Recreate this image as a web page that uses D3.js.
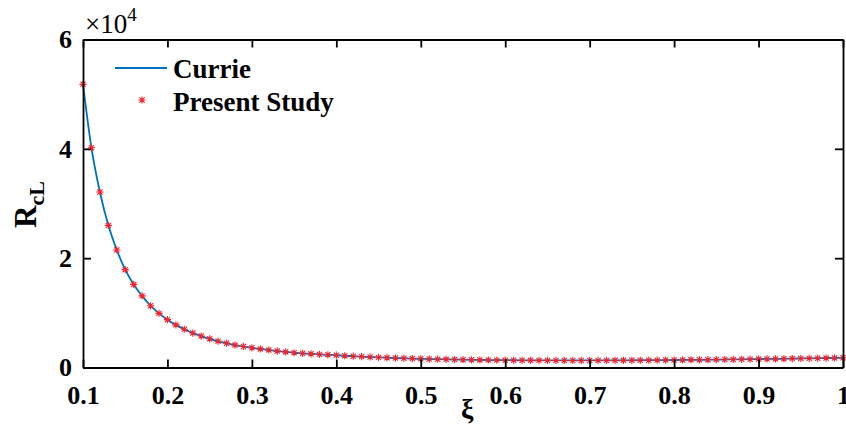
<!DOCTYPE html>
<html>
<head>
<meta charset="utf-8">
<script src="https://cdn.jsdelivr.net/npm/d3@7"></script>
<style>
  body { margin: 0; background: #fff; }
  text { font-family: "Liberation Serif", "Times New Roman", serif; }
</style>
</head>
<body>
<div id="chart"></div>
<script>
// damping ratio values
var xi = [0.10, 0.11, 0.12, 0.13, 0.14, 0.15, 0.16, 0.17, 0.18, 0.19,
          0.20, 0.21, 0.22, 0.23, 0.24, 0.25, 0.26, 0.27, 0.28, 0.29,
          0.30, 0.31, 0.32, 0.33, 0.34, 0.35, 0.36, 0.37, 0.38, 0.39,
          0.40, 0.41, 0.42, 0.43, 0.44, 0.45, 0.46, 0.47, 0.48, 0.49,
          0.50, 0.51, 0.52, 0.53, 0.54, 0.55, 0.56, 0.57, 0.58, 0.59,
          0.60, 0.61, 0.62, 0.63, 0.64, 0.65, 0.66, 0.67, 0.68, 0.69,
          0.70, 0.71, 0.72, 0.73, 0.74, 0.75, 0.76, 0.77, 0.78, 0.79,
          0.80, 0.81, 0.82, 0.83, 0.84, 0.85, 0.86, 0.87, 0.88, 0.89,
          0.90, 0.91, 0.92, 0.93, 0.94, 0.95, 0.96, 0.97, 0.98, 0.99,
          1.00];

// R_cL, same values for Currie (line) and the present study (markers)
var rcl = [51800, 40200, 32100, 26000, 21500, 17900, 15200, 13100, 11300, 9900,
           8750, 7800, 7000, 6300, 5750, 5250, 4800, 4450, 4100, 3850,
           3600, 3400, 3200, 3000, 2850, 2700, 2600, 2500, 2400, 2320,
           2250, 2150, 2070, 1990, 1920, 1850, 1790, 1730, 1680, 1630,
           1590, 1550, 1520, 1490, 1460, 1430, 1410, 1390, 1370, 1350,
           1340, 1330, 1320, 1310, 1300, 1300, 1290, 1290, 1290, 1290,
           1290, 1300, 1300, 1310, 1310, 1320, 1330, 1340, 1350, 1360,
           1370, 1380, 1400, 1410, 1430, 1440, 1460, 1480, 1500, 1520,
           1540, 1560, 1580, 1600, 1630, 1650, 1670, 1700, 1720, 1750,
           1770];

var xTicks = [0.1, 0.2, 0.3, 0.4, 0.5, 0.6, 0.7, 0.8, 0.9, 1];
var yTicks = [0, 20000, 40000, 60000];

var margin = {top: 39.5, right: 3, bottom: 61.5, left: 83},
    width = 846 - margin.left - margin.right,
    height = 429 - margin.top - margin.bottom;

var x = d3.scaleLinear().domain([0.1, 1]).range([0, width]);
var y = d3.scaleLinear().domain([0, 60000]).range([height, 0]);

var svg = d3.select("#chart").append("svg")
    .attr("width", 846)
    .attr("height", 429)
  .append("g")
    .attr("transform", "translate(" + margin.left + "," + margin.top + ")");

// curve
var line = d3.line()
    .x(function(d, i) { return x(xi[i]); })
    .y(function(d) { return y(d); })
    .curve(d3.curveMonotoneX);

svg.append("path")
    .datum(rcl)
    .attr("fill", "none")
    .attr("stroke", "#0072BD")
    .attr("stroke-width", 1.8)
    .attr("d", line);

// asterisk marker (plus + cross)
function star(r) {
  var d = r * 0.72;
  return "M" + (-r) + ",0H" + r + "M0," + (-r) + "V" + r +
         "M" + (-d) + "," + (-d) + "L" + d + "," + d +
         "M" + (-d) + "," + d + "L" + d + "," + (-d);
}

svg.selectAll(".mark")
    .data(rcl)
  .enter().append("path")
    .attr("class", "mark")
    .attr("transform", function(d, i) { return "translate(" + x(xi[i]) + "," + y(d) + ")"; })
    .attr("d", star(3.6))
    .attr("fill", "none")
    .attr("stroke", "#f2232d")
    .attr("stroke-width", 1.1);

// axes, ticks pointing inward, box on
function styleAxis(g) {
  g.select(".domain").attr("stroke", "#000").attr("stroke-width", 1.8);
  g.selectAll(".tick line").attr("stroke", "#000").attr("stroke-width", 1.8);
  g.selectAll("text")
    .attr("fill", "#000")
    .style("font-family", "'Liberation Serif', serif")
    .style("font-weight", "bold")
    .style("font-size", "26px");
}

svg.append("g")
    .attr("transform", "translate(0," + height + ")")
    .call(d3.axisBottom(x).tickValues(xTicks).tickSizeInner(-8).tickSizeOuter(0)
      .tickPadding(18).tickFormat(function(d) { return d === 1 ? "1" : d3.format(".1f")(d); }))
    .call(styleAxis);

svg.append("g")
    .call(d3.axisLeft(y).tickValues(yTicks).tickSizeInner(-8).tickSizeOuter(0)
      .tickPadding(11).tickFormat(function(d) { return d / 10000; }))
    .call(styleAxis);

svg.append("g")
    .call(d3.axisTop(x).tickValues(xTicks).tickSizeInner(-8).tickSizeOuter(0).tickFormat(""))
    .call(styleAxis);

svg.append("g")
    .attr("transform", "translate(" + width + ",0)")
    .call(d3.axisRight(y).tickValues(yTicks).tickSizeInner(-8).tickSizeOuter(0).tickFormat(""))
    .call(styleAxis);

// exponent label
var expo = svg.append("text")
    .attr("x", 2)
    .attr("y", -6.5)
    .style("font-size", "27px")
    .attr("fill", "#000");
expo.append("tspan").text("\u00d710");
expo.append("tspan").attr("dy", -12).style("font-size", "19px").text("4");

// axis titles
svg.append("text")
    .attr("x", x(0.555))
    .attr("y", height + 50)
    .attr("text-anchor", "middle")
    .style("font-size", "28px")
    .style("font-weight", "bold")
    .text("\u03be");

var ylab = svg.append("text")
    .attr("transform", "translate(" + (36 - margin.left) + "," + (228 - margin.top) + ") rotate(-90)")
    .style("font-size", "31px")
    .style("font-weight", "bold");
ylab.append("tspan").text("R");
ylab.append("tspan").attr("dy", 8).style("font-size", "22px").text("cL");

// legend
var legend = svg.append("g").attr("transform", "translate(" + (115 - margin.left) + "," + (68 - margin.top) + ")");
legend.append("line")
    .attr("x1", 0).attr("x2", 52)
    .attr("y1", 0).attr("y2", 0)
    .attr("stroke", "#0072BD")
    .attr("stroke-width", 1.8);
legend.append("path")
    .attr("transform", "translate(27,32)")
    .attr("d", star(3.6))
    .attr("fill", "none")
    .attr("stroke", "#f2232d")
    .attr("stroke-width", 1.1);
legend.append("text")
    .attr("x", 58).attr("y", 10)
    .style("font-size", "27px")
    .style("font-weight", "bold")
    .text("Currie");
legend.append("text")
    .attr("x", 58).attr("y", 43)
    .style("font-size", "27px")
    .style("font-weight", "bold")
    .text("Present Study");
</script>
</body>
</html>
